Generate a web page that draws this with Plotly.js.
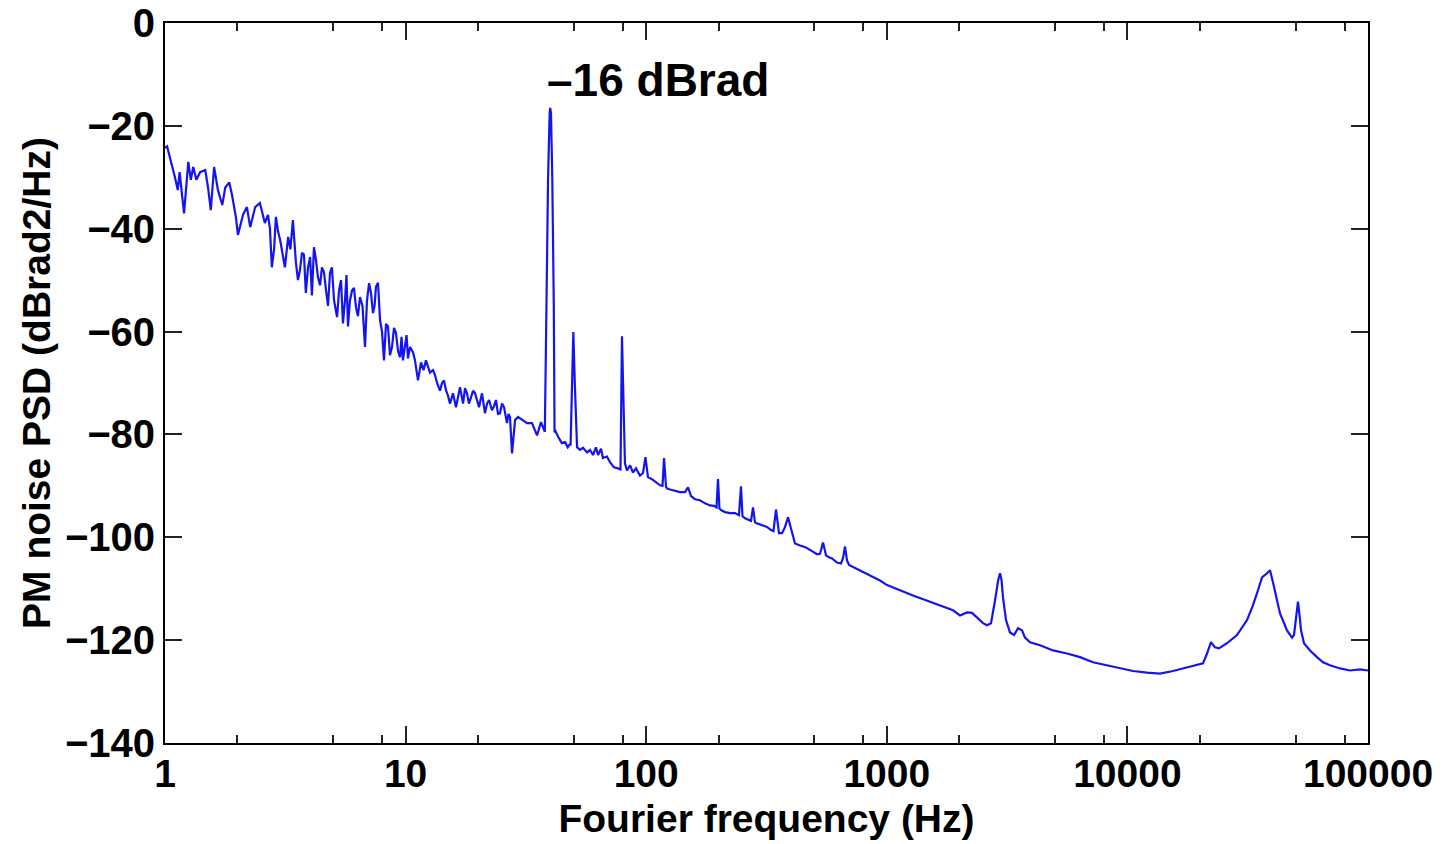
<!DOCTYPE html>
<html><head><meta charset="utf-8">
<script src="https://cdn.plot.ly/plotly-3.0.1.min.js"></script>
<style>html,body{margin:0;padding:0;background:#fff}#chart{width:1448px;height:844px}</style>
</head><body><div id="chart"></div><script>
// Fourier frequency (Hz) — main readings
const freq = [
1.00,1.02,1.10,1.13,1.15,1.20,1.25,1.28,1.31,1.35,1.40,1.47,1.51,1.55,1.60,1.66,1.73,1.78,1.85,1.90,
1.97,2.01,2.11,2.19,2.26,2.37,2.48,2.60,2.68,2.78,2.89,3.01,3.15,3.25,3.40,3.57,3.71,3.85,4.01,4.16,
4.32,4.49,4.67,4.85,5.04,5.19,5.39,5.60,5.76,5.99,6.22,6.46,6.78,7.05,7.32,7.53,7.83,8.13,8.45,8.78,
9.12,9.48,9.75,10.43,10.94,11.26,11.59,12.15,12.63,13.00,13.51,14.17,14.72,15.29,15.74,16.20,16.83,17.33,17.99,18.70,
19.43,20.19,20.77,21.38,22.22,22.86,23.75,24.68,25.64,26.39,27.16,27.69,28.50,29.33,30.47,31.96,33.53,35.17,36.54,37.60,
37.9,38.5,39.1,39.7,39.9,40.2,40.7,41.3,41.6,
41.8,43.1,44.6,46.0,47.2,48.0,48.5,49.2,49.8,50.5,51.6,53.1,54.6,56.8,58.4,60.1,61.8,63.1,64.9,66.1,
68.7,70.7,73.5,76.3,78.2,79.3,80.5,81.6,83.2,85.7,88.1,90.7,94.2,97.0,99.3,100.8,101.7,105.7,109.8,114.1,
116.9,118.6,120.9,122.0,125.6,131.7,138.2,145.0,149.2,153.6,159.5,167.3,175.6,184.2,191.4,196.0,198.8,201.6,204.6,212.6,
223.0,233.9,243.0,247.7,251.3,257.4,267.5,272.6,277.9,283.3,288.8,302.9,317.7,330.1,338.1,346.3,356.4,366.8,377.5,388.5,
399.8,415.4,435.8,461.5,488.9,512.9,527.8,543.1,558.9,575.3,591.8,620.9,645.1,657.7,670.4,683.4,696.6,723.7,773.8,819.6,
876.3,937.0,1002,1061,1134,1285,1469,1664,1884,2015,2094,2154,2260,2371,2511,2609,2711,2817,2899,2955,
2998,3041,3129,3251,3379,3511,3647,3753,3938,4332,4908,5610,6353,7194,8228,9316,10550,12060,13660,15470,
17030,18740,20620,21420,22260,23130,24030,25940,28540,31420,33270,34900,36260,38040,39150,40290,43080,46060,48330,49260,
50210,51170,52170,52670,54200,57410,61380,65010,69500,76470,84200,92640,100000
];
// PM noise PSD (dBrad2/Hz) — main readings
const psd = [
-24.3,-24,-30,-32.5,-29,-37,-27,-30.5,-28,-30.5,-29,-28.6,-32,-36.4,-28,-32.5,-35.4,-32,-31,-33.5,
-37.7,-41.2,-37.3,-35.8,-39.7,-35.8,-35,-38.9,-37.3,-47.5,-37.7,-42.2,-47.5,-41.6,-38.3,-50,-44.7,-52.5,-45.5,-43.6,
-49.4,-47.5,-52,-48.6,-53.9,-57.2,-50,-53.9,-59,-52,-55.3,-53.3,-63,-50.6,-56.4,-51.3,-57.8,-65.6,-59,-63,
-60.3,-65,-65.6,-63,-65.6,-69.5,-66,-65.6,-68,-67.5,-70,-70,-71.4,-74,-72,-74.7,-70.8,-74,-72,-72.8,
-72,-74.7,-72,-75.9,-73.3,-75.3,-73.3,-75.9,-74.7,-77.8,-76.6,-83.7,-77.2,-76.6,-77.2,-77.8,-77.8,-80.2,-77.6,-79.2,
-79.5,-55,-30,-17.5,-16.5,-17.5,-30,-55,-79.6,
-79.2,-80.5,-81.7,-81.5,-82.5,-82,-82,-70,-60.1,-70,-82.5,-83,-82.6,-83.5,-83,-84,-82.5,-84,-82.8,-84.6,
-84.3,-85.4,-86.4,-86.6,-86.8,-60.9,-75,-85.6,-87,-86,-87.4,-86.6,-88,-87.5,-84.4,-87.8,-88.3,-88.7,-89.3,-89.9,
-90,-84.6,-90.2,-90.5,-90.7,-91,-91.2,-91.2,-90.3,-92,-92.6,-92.8,-93.4,-93.8,-93.9,-94.2,-88.7,-94.4,-94.7,-95.1,
-95.3,-95.3,-95.7,-90.1,-95.9,-96.3,-96.7,-96.8,-94.2,-97.1,-97.3,-97.7,-98,-98.6,-98.8,-94.6,-99.2,-99.2,-98,-96.1,
-98.5,-101.2,-101.6,-102,-102.7,-103.3,-103.2,-101,-103.5,-103.9,-104.1,-104.9,-105.1,-104,-101.8,-104.5,-105.4,-105.8,-106.4,-107,
-107.8,-108.4,-109.3,-109.7,-110.3,-111.3,-112.3,-113.2,-114.2,-115.2,-114.8,-114.6,-114.7,-115.6,-116.7,-117.1,-116.7,-112.3,-108.5,-107,
-108.3,-111.7,-116.1,-118.5,-119,-117.7,-118.1,-119.5,-120.4,-121,-122,-122.6,-123.3,-124.3,-124.9,-125.5,-126,-126.3,-126.5,-126,
-125.5,-125.1,-124.5,-122.6,-120.4,-121.4,-121.6,-120.6,-119,-116.1,-113.2,-110.3,-107.8,-107,-106.4,-108.8,-114.8,-118.1,-119.5,-119,
-116,-112.5,-116,-118.1,-120.6,-122,-123.3,-124.3,-124.9,-125.5,-125.9,-125.7,-125.9
];
// extra readings in the dense noisy band (merged by frequency below)
const freqExtra = [
2.73,2.84,2.95,3.09,3.32,3.50,3.64,3.78,3.93,4.08,4.24,4.41,4.58,4.76,4.94,5.11,5.29,5.49,5.68,5.87,
6.10,6.34,6.62,6.91,7.18,7.43,7.68,7.98,8.29,8.61,8.95,9.30,9.62,10.09,10.23,10.73,11.87,13.26,13.90,14.44,
15.01,16.51,17.66,18.34,19.06,19.81,21.80,23.31,24.21,25.16,26.77
];
const psdExtra = [
-40,-44,-40.5,-45,-44,-46.5,-48,-45,-47.5,-53,-46,-51,-48.5,-55,-47.5,-55.5,-52,-58.4,-49,-54,
-51.5,-57,-55,-54,-52.5,-55,-50.5,-60,-58.5,-64.6,-59.3,-63.8,-61,-60.7,-65.2,-64,-67.5,-68.5,-71.5,-69.5,
-72.5,-72.5,-71,-74,-71.5,-73.5,-74,-74.5,-76,-74,-76
];
const xTickVals = [1, 10, 100, 1000, 10000, 100000];
const xTickText = ['1', '10', '100', '1000', '10000', '100000'];
const xMinorVals = [2, 5, 8, 20, 50, 80, 200, 500, 800, 2000, 5000, 8000, 20000, 50000, 80000];
const yTickVals = [0, -20, -40, -60, -80, -100, -120, -140];
const yTickText = ['0', '\u221220', '\u221240', '\u221260', '\u221280', '\u2212100', '\u2212120', '\u2212140'];
const xTitle = 'Fourier frequency (Hz)';
const yTitle = 'PM noise PSD (dBrad2/Hz)';
const peakLabel = '\u201316 dBrad';

// merge the two reading sets, ordered by frequency
const pts = freq.map((f, i) => [f, psd[i]]).concat(freqExtra.map((f, i) => [f, psdExtra[i]]));
pts.sort((a, b) => a[0] - b[0]);

const FONT = 'Liberation Sans, Arial, Helvetica, sans-serif';
const trace = {
  x: pts.map(p => p[0]), y: pts.map(p => p[1]), type: 'scatter', mode: 'lines',
  line: {color: 'rgb(20,20,240)', width: 2.2},
  hoverinfo: 'skip'
};
const axisCommon = {
  showline: true, linecolor: '#000', linewidth: 2, mirror: 'ticks',
  ticks: 'inside', tickcolor: '#222', tickwidth: 2, ticklen: 17,
  showgrid: false, zeroline: false
};
const layout = {
  width: 1448, height: 844,
  margin: {l: 165, r: 80, t: 23, b: 101},
  paper_bgcolor: '#fff', plot_bgcolor: '#fff',
  showlegend: false,
  font: {family: FONT, color: '#000'},
  xaxis: Object.assign({}, axisCommon, {
    type: 'log', range: [0, 5], tickmode: 'array',
    tickvals: xTickVals, ticktext: xTickText,
    ticklabelstandoff: -5,
    tickfont: {family: FONT, size: 39, color: '#000', weight: 'bold'},
    minor: {tickmode: 'array', tickvals: xMinorVals, ticks: 'inside', ticklen: 8, tickwidth: 2, tickcolor: '#222', showgrid: false},
    title: {text: xTitle, font: {family: FONT, size: 39, color: '#000', weight: 'bold'}, standoff: 11}
  }),
  yaxis: Object.assign({}, axisCommon, {
    range: [-140, 0], tickmode: 'array',
    tickvals: yTickVals, ticktext: yTickText,
    ticklabelstandoff: 0,
    tickfont: {family: FONT, size: 40, color: '#000', weight: 'bold'},
    title: {text: yTitle, font: {family: FONT, size: 39, color: '#000', weight: 'bold'}, standoff: 2}
  }),
  annotations: [{
    text: peakLabel, xref: 'paper', yref: 'paper', x: 0.41, y: 0.921,
    xanchor: 'center', yanchor: 'middle', showarrow: false,
    font: {family: FONT, size: 46, color: '#000', weight: 'bold'}
  }]
};
Plotly.newPlot('chart', [trace], layout, {staticPlot: true, displayModeBar: false});
</script></body></html>
